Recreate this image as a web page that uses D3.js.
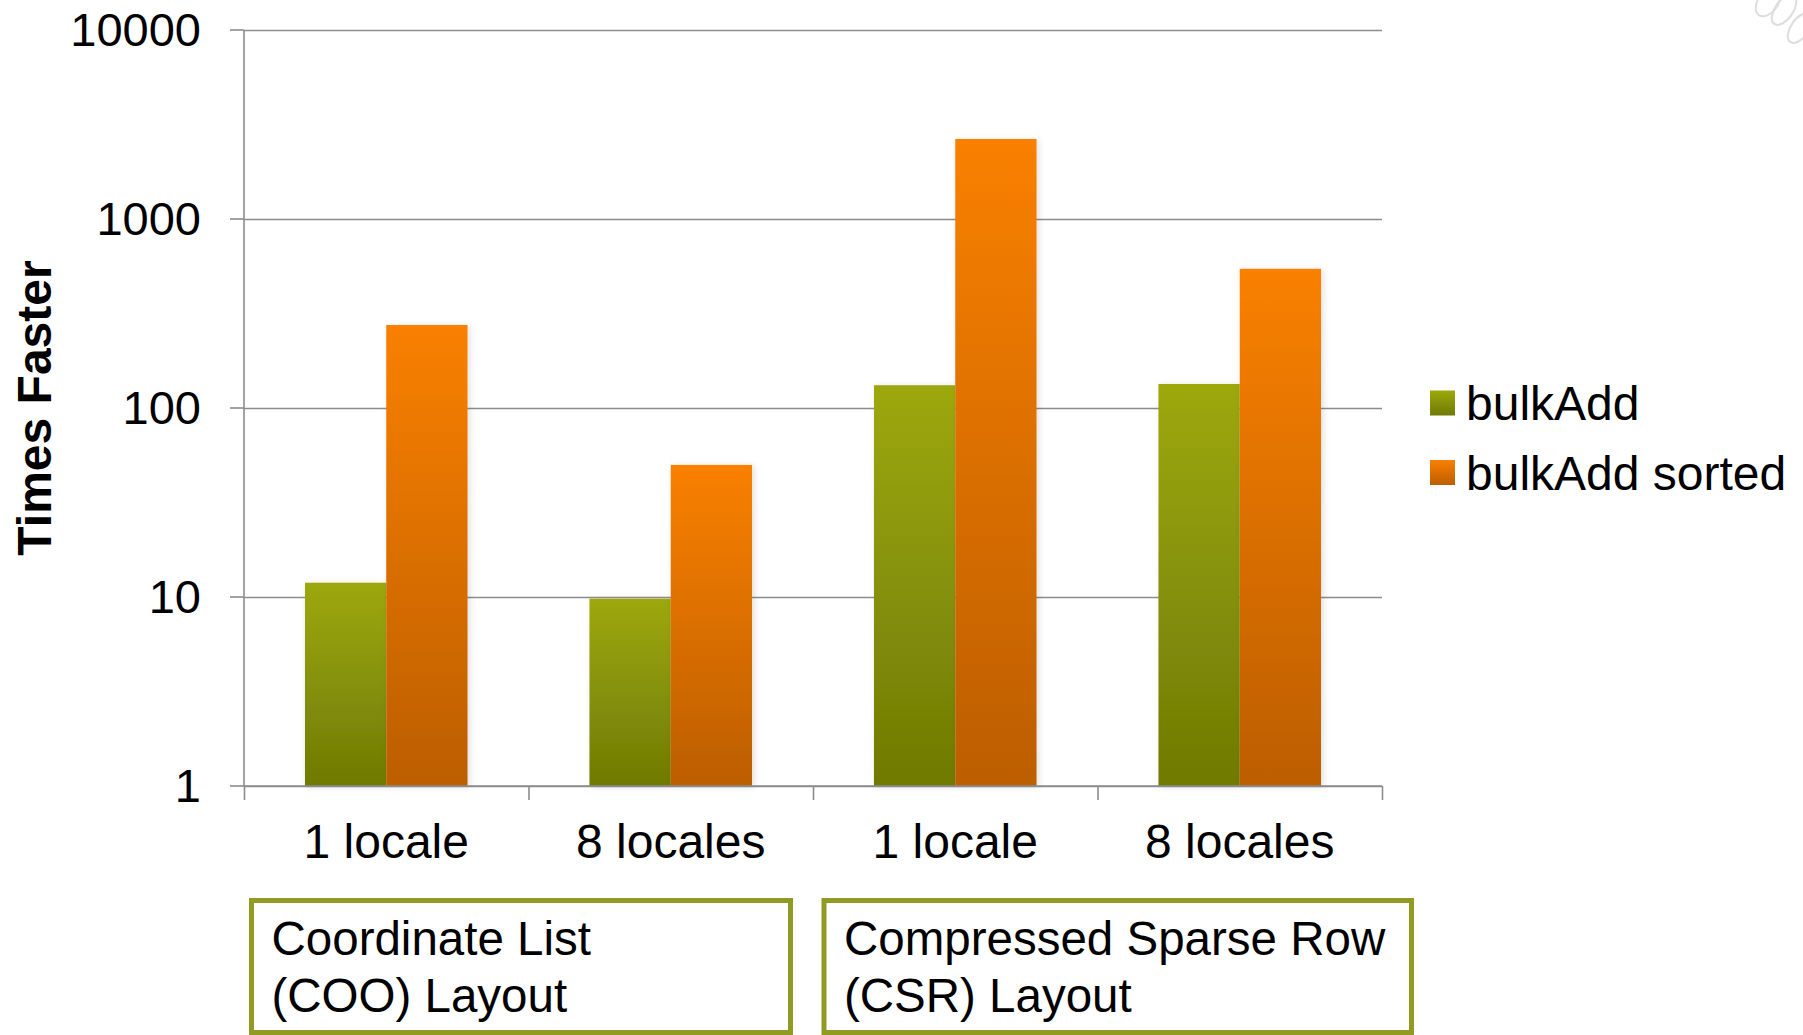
<!DOCTYPE html>
<html>
<head>
<meta charset="utf-8">
<script src="https://cdn.jsdelivr.net/npm/d3@7"></script>
<style>
  html, body { margin: 0; padding: 0; background: #fff; }
  svg { display: block; font-family: "Liberation Sans", Arial, sans-serif; }
</style>
</head>
<body>
<div id="main"></div>
<script>
const categories = ["1 locale", "8 locales", "1 locale", "8 locales"];
const seriesNames = ["bulkAdd", "bulkAdd sorted"];
const bulkAdd = [11.9, 9.8, 132, 134];
const bulkAddSorted = [275, 50, 2650, 545];
const yTicks = [1, 10, 100, 1000, 10000];
const groupLabels = [["Coordinate List", "(COO) Layout"], ["Compressed Sparse Row", "(CSR) Layout"]];

const svgWidth = 1803;
const svgHeight = 1035;

const svg = d3.select("#main")
              .append("svg")
              .attr("width", svgWidth)
              .attr("height", svgHeight);

const defs = svg.append("defs");

const gradients = [
  { id: "gGreen", top: "#9da80b", bottom: "#6f7a05" },
  { id: "gOrange", top: "#f98000", bottom: "#bc5e00" }
];
gradients.forEach(function(g) {
  const lg = defs.append("linearGradient")
                 .attr("id", g.id)
                 .attr("x1", 0).attr("y1", 0)
                 .attr("x2", 0).attr("y2", 1);
  lg.append("stop").attr("offset", "0%").attr("stop-color", g.top);
  lg.append("stop").attr("offset", "100%").attr("stop-color", g.bottom);
});

defs.append("filter")
    .attr("id", "shadow")
    .attr("x", "-20%").attr("y", "-20%")
    .attr("width", "140%").attr("height", "140%")
    .append("feDropShadow")
    .attr("dx", 2).attr("dy", 1)
    .attr("stdDeviation", 3)
    .attr("flood-color", "#000")
    .attr("flood-opacity", 0.13);

// faint template decoration, top right
const deco = svg.append("g")
                .attr("fill", "none")
                .attr("stroke", "#dedede")
                .attr("stroke-width", 2);
[[1768, 2, 10, 16], [1784, 10, 9, 17], [1800, 28, 9, 17]].forEach(function(e) {
  deco.append("ellipse")
      .attr("transform", "translate(" + e[0] + "," + e[1] + ") rotate(35)")
      .attr("rx", e[2]).attr("ry", e[3]);
});

const plotLeft = 244, plotRight = 1382, plotTop = 30, plotBottom = 786;

const xScale = d3.scaleBand()
                 .domain(d3.range(categories.length))
                 .range([plotLeft, plotRight]);

const sub = d3.scaleBand()
              .domain(d3.range(seriesNames.length))
              .range([0, xScale.bandwidth()])
              .paddingInner(0)
              .paddingOuter(0.75);

const yScale = d3.scaleLog()
                 .domain([1, 10000])
                 .range([plotBottom, plotTop]);

// gridlines
const yAxis = d3.axisLeft(yScale)
                .tickValues(yTicks)
                .tickSize(-(plotRight - plotLeft))
                .tickFormat("");

const yG = svg.append("g")
              .attr("transform", "translate(" + plotLeft + ",0)")
              .call(yAxis);
yG.select(".domain").remove();
yG.selectAll("line").attr("stroke", "#8c8c8c").attr("stroke-width", 1.6);

// left tick stubs
svg.append("g")
   .selectAll("line")
   .data(yTicks)
   .enter()
   .append("line")
   .attr("x1", plotLeft - 14).attr("x2", plotLeft)
   .attr("y1", function(d) { return yScale(d) })
   .attr("y2", function(d) { return yScale(d) })
   .attr("stroke", "#8c8c8c").attr("stroke-width", 1.6);

// y tick labels
svg.append("g")
   .selectAll("text")
   .data(yTicks)
   .enter()
   .append("text")
   .attr("x", 201)
   .attr("y", function(d) { return yScale(d) })
   .attr("dy", "0.35em")
   .attr("text-anchor", "end")
   .attr("font-size", 47)
   .attr("fill", "#000")
   .text(function(d) { return d });

// y axis line
svg.append("line")
   .attr("x1", plotLeft).attr("x2", plotLeft)
   .attr("y1", plotTop).attr("y2", plotBottom)
   .attr("stroke", "#8c8c8c").attr("stroke-width", 1.6);

// bars
const data = [];
categories.forEach(function(c, i) {
  data.push({ cat: i, s: 0, v: bulkAdd[i] });
  data.push({ cat: i, s: 1, v: bulkAddSorted[i] });
});

svg.append("g")
   .selectAll(".bar")
   .data(data)
   .enter()
   .append("rect")
   .attr("class", "bar")
   .attr("x", function(d) { return xScale(d.cat) + sub(d.s) })
   .attr("y", function(d) { return yScale(d.v) })
   .attr("width", sub.bandwidth())
   .attr("height", function(d) { return yScale(1) - yScale(d.v) })
   .attr("fill", function(d) { return d.s === 0 ? "url(#gGreen)" : "url(#gOrange)" })
   .attr("filter", "url(#shadow)");

// x axis
const xAxis = d3.axisBottom(d3.scaleLinear().domain([0, categories.length]).range([plotLeft, plotRight]))
                .tickValues(d3.range(categories.length + 1))
                .tickSize(14)
                .tickFormat("");

const xG = svg.append("g")
              .attr("transform", "translate(0," + plotBottom + ")")
              .call(xAxis);
xG.select(".domain").attr("stroke", "#8c8c8c").attr("stroke-width", 1.6).attr("d", "M" + plotLeft + ",0H" + plotRight);
xG.selectAll("line").attr("stroke", "#8c8c8c").attr("stroke-width", 1.6);

svg.append("g")
   .selectAll("text")
   .data(categories)
   .enter()
   .append("text")
   .attr("x", function(d, i) { return xScale(i) + xScale.bandwidth() / 2 })
   .attr("y", 858)
   .attr("text-anchor", "middle")
   .attr("font-size", 48)
   .attr("fill", "#000")
   .text(function(d) { return d });

// y title
svg.append("text")
   .attr("transform", "translate(51,408) rotate(-90)")
   .attr("text-anchor", "middle")
   .attr("font-size", 48)
   .attr("font-weight", "bold")
   .attr("fill", "#000")
   .text("Times Faster");

// legend
const legend = svg.append("g");
seriesNames.forEach(function(name, i) {
  const ly = 403 + i * 69.5;
  legend.append("rect")
        .attr("x", 1430).attr("y", ly - 12.5)
        .attr("width", 25).attr("height", 25)
        .attr("fill", i === 0 ? "url(#gGreen)" : "url(#gOrange)");
  legend.append("text")
        .attr("x", 1466).attr("y", ly + 17)
        .attr("font-size", 48)
        .attr("fill", "#000")
        .text(name);
});

// layout boxes under the axis
const boxes = [[251.5, 790.5], [824, 1411.5]];
boxes.forEach(function(b, i) {
  svg.append("rect")
     .attr("x", b[0]).attr("y", 900.5)
     .attr("width", b[1] - b[0]).attr("height", 132)
     .attr("fill", "#fff")
     .attr("stroke", "#919a22")
     .attr("stroke-width", 5);
  const t = svg.append("text")
               .attr("font-size", 47.5)
               .attr("fill", "#000");
  groupLabels[i].forEach(function(line, j) {
    t.append("tspan")
     .attr("x", b[0] + 20)
     .attr("y", 955 + j * 57)
     .text(line);
  });
});
</script>
</body>
</html>
